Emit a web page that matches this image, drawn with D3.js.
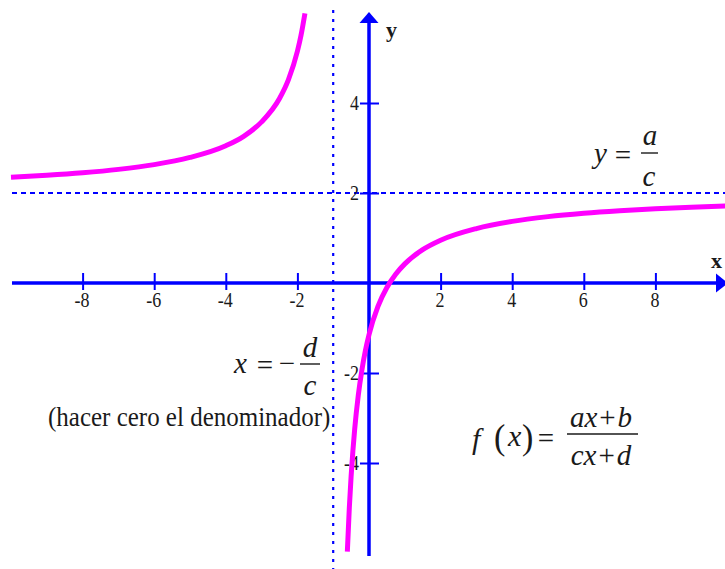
<!DOCTYPE html>
<html>
<head>
<meta charset="utf-8">
<script src="https://cdn.jsdelivr.net/npm/d3@7"></script>
<style>
  html, body { margin: 0; padding: 0; background: #fff; }
  svg { display: block; }
  svg text { font-family: "Liberation Serif", "Times New Roman", Tinos, "DejaVu Serif", serif; }
</style>
</head>
<body>
<svg id="chart" width="725" height="569"></svg>
<script>
// ---- data ----
const xTicks = [-8, -6, -4, -2, 2, 4, 6, 8];
const yTicks = [4, 2, -2, -4];
const asymptoteX = -1;   // x = -d/c
const asymptoteY = 2;    // y = a/c

// left branch (x < -1)
const leftX = [-10, -9, -8, -7, -6, -5, -4, -3.5, -3, -2.5, -2.25, -2, -1.9, -1.79];
const leftY = [2.35, 2.394, 2.45, 2.525, 2.63, 2.79, 3.05, 3.26, 3.58, 4.1, 4.52, 5.15, 5.5, 5.99];
// right branch (x > -1)
const rightX = [-0.605, -0.55, -0.5, -0.45, -0.4, -0.3, -0.2, -0.1, 0, 0.25, 0.5, 0.75, 1, 1.5, 2, 3, 4, 5, 6, 7, 8, 9, 10];
const rightY = [-5.97, -5.0, -4.3, -3.73, -3.25, -2.5, -1.94, -1.5, -1.15, -0.52, -0.1, 0.2, 0.425, 0.74, 0.95, 1.21, 1.37, 1.475, 1.55, 1.606, 1.65, 1.685, 1.714];

const axisXLabel = "x";
const axisYLabel = "y";
const noteText = "(hacer cero el denominador)";

// ---- drawing ----
const svg = d3.select("#chart");
const W = 725, H = 569;
const x = d3.scaleLinear().domain([-10, 10]).range([11, 727]);
const y = d3.scaleLinear().domain([-6, 6]).range([553, 13]);

const BLUE = "#0000ff";
const MAG = "#ff00ff";
const INK = "#1a1a1a";
const SERIF = '"Liberation Serif", "Times New Roman", Tinos, "DejaVu Serif", serif';

// asymptotes
svg.append("line")
  .attr("x1", x(asymptoteX)).attr("x2", x(asymptoteX))
  .attr("y1", 10).attr("y2", H)
  .attr("stroke", BLUE).attr("stroke-width", 2.2)
  .attr("stroke-dasharray", "3,6");
svg.append("line")
  .attr("x1", 12).attr("x2", W)
  .attr("y1", y(asymptoteY)).attr("y2", y(asymptoteY))
  .attr("stroke", BLUE).attr("stroke-width", 2)
  .attr("stroke-dasharray", "5,4");

// x axis
const x0 = x(0), y0 = y(0);
svg.append("line")
  .attr("x1", 12).attr("x2", 718).attr("y1", y0).attr("y2", y0)
  .attr("stroke", BLUE).attr("stroke-width", 3.5);
svg.append("path")
  .attr("d", `M716,${y0 - 9.5} L728,${y0} L716,${y0 + 9.5} Z`)
  .attr("fill", BLUE);

const gx = svg.append("g").attr("transform", `translate(0,${y0})`)
  .call(d3.axisBottom(x).tickValues(xTicks).tickSize(7).tickFormat(d3.format("d")));
gx.select(".domain").remove();
gx.attr("font-family", null).attr("font-size", null);
gx.selectAll(".tick line").attr("y1", -10).attr("y2", 7).attr("stroke", BLUE).attr("stroke-width", 2);
gx.selectAll(".tick text")
  .attr("y", null).attr("dy", null)
  .attr("transform", "translate(-1,24) scale(1,1.15)")
  .attr("fill", INK).style("font-family", SERIF).style("font-size", "18px")
  .text(d => d < 0 ? "-" + Math.abs(d) : String(d));

// y axis
svg.append("line")
  .attr("x1", x0).attr("x2", x0).attr("y1", 22).attr("y2", 556)
  .attr("stroke", BLUE).attr("stroke-width", 3.5);
svg.append("path")
  .attr("d", `M${x0 - 9.5},23 L${x0},12 L${x0 + 9.5},23 Z`)
  .attr("fill", BLUE);

const gy = svg.append("g").attr("transform", `translate(${x0},0)`)
  .call(d3.axisLeft(y).tickValues(yTicks).tickSize(9).tickFormat(d3.format("d")));
gy.select(".domain").remove();
gy.attr("font-family", null).attr("font-size", null);
gy.selectAll(".tick line").attr("x1", -9).attr("x2", 10).attr("stroke", BLUE).attr("stroke-width", 2);
gy.selectAll(".tick text")
  .attr("x", null).attr("dy", null)
  .attr("text-anchor", "end")
  .attr("transform", "translate(-10,6.5) scale(1,1.15)")
  .attr("fill", INK).style("font-family", SERIF).style("font-size", "18px")
  .text(d => d < 0 ? "-" + Math.abs(d) : String(d));

// axis letters
svg.append("text").attr("x", 386).attr("y", 37)
  .style("font-family", SERIF).attr("font-weight", "bold").style("font-size", "22px").attr("fill", INK)
  .text(axisYLabel);
svg.append("text").attr("x", 711).attr("y", 268)
  .style("font-family", SERIF).attr("font-weight", "bold").style("font-size", "22px").attr("fill", INK)
  .text(axisXLabel);

// curve
const line = d3.line().x(d => x(d[0])).y(d => y(d[1])).curve(d3.curveMonotoneX);
const leftPts = leftX.map((v, i) => [v, leftY[i]]);
const rightPts = rightX.map((v, i) => [v, rightY[i]]);
[leftPts, rightPts].forEach(pts => {
  svg.append("path").attr("d", line(pts))
    .attr("fill", "none").attr("stroke", MAG).attr("stroke-width", 5)
    .attr("stroke-linecap", "butt");
});

// ---- math annotations ----
function t(xp, yp, str, opts = {}) {
  const sy = opts.sy || 1.0;
  return svg.append("text")
    .attr("transform", `translate(${xp},${yp}) scale(1,${sy})`)
    .style("font-family", SERIF)
    .style("font-size", (opts.size || 29) + "px")
    .style("font-style", opts.italic ? "italic" : "normal")
    .attr("text-anchor", opts.anchor || "start")
    .attr("fill", INK)
    .text(str);
}
function fracLine(x1, x2, yp) {
  svg.append("line").attr("x1", x1).attr("x2", x2).attr("y1", yp).attr("y2", yp)
    .attr("stroke", INK).attr("stroke-width", 1.4);
}

// y = a/c
t(594, 163, "y", {italic: true});
t(623, 165, "=", {anchor: "middle"});
fracLine(641, 658, 153);
t(650, 145, "a", {italic: true, anchor: "middle"});
t(649, 186, "c", {italic: true, anchor: "middle"});

// x = -d/c
t(234, 373, "x", {italic: true});
t(265, 375, "=", {anchor: "middle"});
t(287, 373, "\u2212", {anchor: "middle"});
fracLine(300, 320, 364);
t(310, 357, "d", {italic: true, anchor: "middle"});
t(310, 395, "c", {italic: true, anchor: "middle"});

// note
t(48, 426, noteText, {size: 25, sy: 1.08});

// f(x) = (ax+b)/(cx+d)
t(472, 449, "f", {italic: true, size: 30});
t(494, 449, "(", {size: 34, sy: 1.05});
t(508, 446, "x", {italic: true, size: 30});
t(522, 449, ")", {size: 34, sy: 1.05});
t(546, 448, "=", {anchor: "middle"});
fracLine(567, 638, 434);
const num = t(601, 427, "", {anchor: "middle"});
num.append("tspan").style("font-style", "italic").text("ax");
num.append("tspan").attr("dx", 2).text("+");
num.append("tspan").attr("dx", 2).style("font-style", "italic").text("b");
const den = t(601, 465, "", {anchor: "middle"});
den.append("tspan").style("font-style", "italic").text("cx");
den.append("tspan").attr("dx", 2).text("+");
den.append("tspan").attr("dx", 2).style("font-style", "italic").text("d");
</script>
</body>
</html>
